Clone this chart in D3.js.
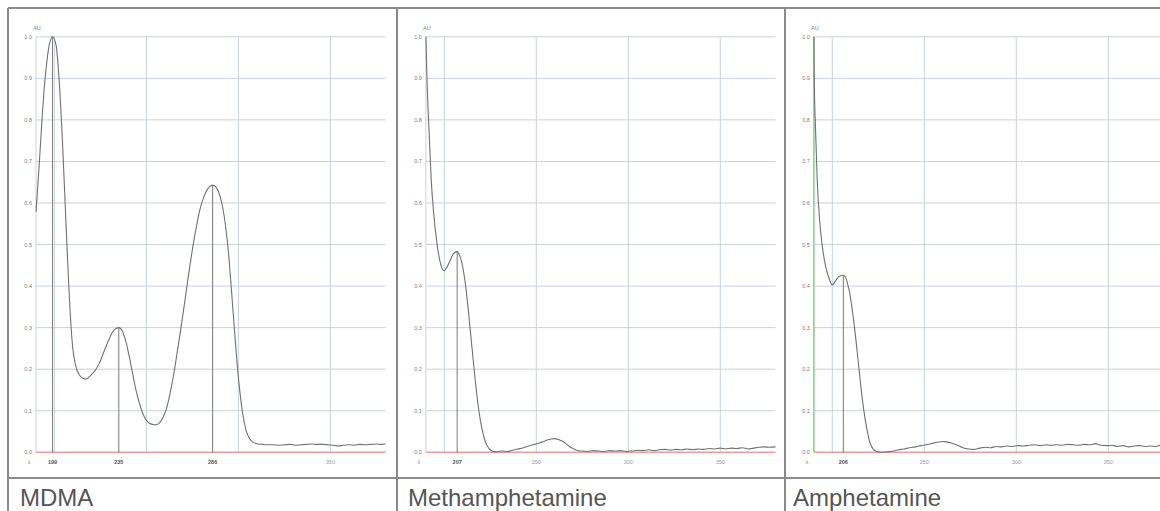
<!DOCTYPE html>
<html lang="en">
<head>
    <meta charset="UTF-8">
    <title>UV Spectra</title>
    <script src="https://cdnjs.cloudflare.com/ajax/libs/d3/7.8.5/d3.min.js"></script>
    <style>
        body {
            margin: 0;
            padding: 0;
            background: #fff;
            font-family: "Liberation Sans", Arial, sans-serif;
        }
    </style>
</head>
<body>
    <div id="chart"></div>

    <script>
        // spectra: [wavelength nm, absorbance AU]
        const mdma = [
            [190, .579], [191.8, .696], [193.6, .824], [195.4, .920], [197.2, .980], [199, 1.0],
            [200.9, .980], [202.7, .888], [204.5, .736], [206.3, .551], [208.1, .375], [209.9, .254],
            [211.7, .206], [213.6, .186], [215.4, .178], [217.2, .176], [219, .182], [220.8, .190],
            [222.6, .200], [224.4, .214], [226.2, .234], [228, .254], [229.9, .274], [231.7, .290],
            [233.5, .298], [235, .300], [237.1, .290], [238.9, .266], [240.7, .230], [242.5, .190],
            [244.3, .150], [246.2, .118], [248, .094], [249.8, .078], [251.6, .070], [253.4, .067],
            [255.2, .066], [257, .070], [258.8, .082], [260.7, .102], [262.5, .134], [264.3, .174],
            [266.1, .222], [267.9, .274], [269.7, .327], [271.5, .383], [273.3, .439], [275.1, .491],
            [277, .539], [278.8, .579], [280.6, .607], [282.4, .627], [284.2, .639], [286, .643],
            [287.8, .638], [289.6, .622], [291.4, .591], [293.3, .535], [295.1, .455], [296.9, .351],
            [298.7, .246], [300.5, .158], [302.3, .094], [304.1, .054], [305.9, .034], [307.8, .025],
            [309.6, .021], [313, .019], [316, .018], [319, .018], [322, .017], [325, .018], [328, .019],
            [331, .017], [334, .018], [337, .019], [340, .020], [343, .019], [346, .019], [349, .018],
            [352, .017], [354, .015], [357, .017], [360, .018], [363, .017], [366, .019], [369, .018],
            [372, .019], [375, .020], [378, .019], [380, .020]
        ];

        const meth = [
            [190, 1.0], [190.6, .896], [191.7, .776], [192.9, .655], [194.4, .567], [196, .503],
            [197.5, .463], [198.7, .443], [200, .437], [201.4, .445], [203.3, .463], [205.1, .479],
            [207, .483], [208.3, .474], [209.6, .455], [211.4, .407], [213.2, .335], [215, .254],
            [216.8, .174], [218.6, .106], [220.4, .058], [222.2, .026], [224.1, .010], [225.9, .003],
            [228, .001], [231, .003], [234, .002], [237, .005], [240, .008], [243, .011], [246, .016],
            [249, .019], [252, .023], [255, .028], [258, .032], [260, .033], [262, .031], [264, .027],
            [266, .021], [268, .014], [270, .009], [272, .005], [275, .003], [278, .002], [281, .004],
            [284, .003], [287, .002], [290, .004], [293, .003], [296, .004], [299, .002], [302, .003],
            [305, .005], [308, .004], [311, .006], [314, .004], [317, .006], [320, .007], [323, .005],
            [326, .007], [329, .006], [332, .008], [335, .006], [338, .008], [341, .007], [344, .009],
            [347, .008], [350, .010], [353, .008], [356, .010], [359, .009], [362, .011], [365, .008],
            [368, .010], [371, .012], [374, .013], [377, .012], [380, .013]
        ];

        const amph = [
            [190, 1.0], [190.2, .896], [190.9, .776], [191.8, .655], [193.1, .559], [194.6, .495],
            [196.4, .447], [198.2, .419], [200, .403], [201.8, .413], [203.6, .423], [206, .426],
            [207.5, .418], [208.6, .400], [209.6, .380], [211.4, .324], [213.2, .256], [215, .180],
            [216.8, .111], [218.7, .058], [220.5, .023], [222.3, .007], [224.1, .002], [227, .000],
            [230, .001], [233, .003], [236, .006], [239, .008], [242, .011], [245, .013], [248, .016],
            [251, .018], [254, .021], [257, .024], [260, .026], [262, .025], [265, .022], [268, .017],
            [271, .011], [274, .008], [277, .007], [280, .010], [283, .012], [286, .011], [289, .014],
            [292, .013], [295, .015], [298, .014], [301, .016], [304, .015], [307, .017], [310, .018],
            [313, .016], [316, .018], [319, .017], [322, .018], [325, .017], [328, .019], [331, .018],
            [334, .017], [337, .019], [340, .018], [343, .021], [346, .017], [349, .016], [352, .017],
            [355, .014], [358, .016], [361, .013], [364, .015], [367, .016], [370, .014], [373, .015],
            [376, .014], [378, .017], [380, .019]
        ];

        const names = ['MDMA', 'Methamphetamine', 'Amphetamine'];
        const peaks = [[199, 235, 286], [207], [206]];
        const gridLabels = [[350], [250, 300, 350], [250, 300, 350]];
        const gridWl = [200, 250, 300, 350];
        const yTicks = [0, 0.1, 0.2, 0.3, 0.4, 0.5, 0.6, 0.7, 0.8, 0.9, 1.0];
        const series = [mdma, meth, amph];

        const width = 1160, height = 511;
        const panelLeft = [36, 425.9, 813.9];   // x of 190 nm in each panel
        const textLeft = [20, 408, 793];
        const seps = [8, 397, 785];

        const svg = d3.select('#chart').append('svg')
            .attr('width', width)
            .attr('height', height);

        const y = d3.scaleLinear().domain([0, 1]).range([452.3, 36.8]);

        series.forEach((data, i) => {
            const x = d3.scaleLinear()
                .domain([190, 380])
                .range([panelLeft[i], panelLeft[i] + 349.6]);
            const g = svg.append('g');

            // grid
            g.selectAll('.hg').data(yTicks.slice(1)).join('line')
                .attr('x1', x(190)).attr('x2', Math.min(x(380), width))
                .attr('y1', d => y(d)).attr('y2', d => y(d))
                .attr('stroke', '#c9d1dd').attr('stroke-width', 1);
            g.selectAll('.vg').data([190].concat(gridWl)).join('line')
                .attr('x1', d => x(d)).attr('x2', d => x(d))
                .attr('y1', y(0)).attr('y2', y(1))
                .attr('stroke', '#c9d1dd').attr('stroke-width', 1);

            // y tick labels
            g.selectAll('.yl').data(yTicks).join('text')
                .attr('x', x(190) - 4).attr('y', d => y(d) + 2)
                .attr('text-anchor', 'end')
                .attr('font-size', 5.5).attr('fill', '#7d7d7d')
                .text(d => d.toFixed(1));
            g.append('text')
                .attr('x', x(190) + 1).attr('y', 30)
                .attr('text-anchor', 'middle')
                .attr('font-size', 5.5).attr('fill', '#7d7d7d')
                .text('AU');

            // green edge line (third panel only)
            if (i === 2) {
                g.append('line')
                    .attr('x1', x(190)).attr('x2', x(190))
                    .attr('y1', y(0)).attr('y2', y(1))
                    .attr('stroke', '#86d886').attr('stroke-width', 1.5);
            }

            // baseline
            g.append('line')
                .attr('x1', x(190)).attr('x2', Math.min(x(380), width))
                .attr('y1', y(0)).attr('y2', y(0))
                .attr('stroke', '#f19a9a').attr('stroke-width', 1.5);

            // peak marker lines
            const valueAt = wl => data.find(d => d[0] === wl)[1];
            g.selectAll('.pk').data(peaks[i]).join('line')
                .attr('x1', d => x(d)).attr('x2', d => x(d))
                .attr('y1', y(0)).attr('y2', d => y(valueAt(d)))
                .attr('stroke', '#777').attr('stroke-width', 1);

            // spectrum
            const line = d3.line()
                .x(d => x(d[0]))
                .y(d => y(d[1]))
                .curve(d3.curveMonotoneX);
            g.append('path')
                .datum(data)
                .attr('d', line)
                .attr('fill', 'none')
                .attr('stroke', '#707070')
                .attr('stroke-width', 1.1);

            // x labels
            g.append('text')
                .attr('x', x(190) - 7).attr('y', 464)
                .attr('text-anchor', 'middle')
                .attr('font-size', 5.5).attr('fill', '#7d7d7d')
                .text('λ');
            g.selectAll('.pl').data(peaks[i]).join('text')
                .attr('x', d => x(d)).attr('y', 464)
                .attr('text-anchor', 'middle')
                .attr('font-size', 5.5).attr('font-weight', 'bold').attr('fill', '#555')
                .text(d => d);
            g.selectAll('.gl').data(gridLabels[i]).join('text')
                .attr('x', d => x(d)).attr('y', 464)
                .attr('text-anchor', 'middle')
                .attr('font-size', 5.5).attr('fill', '#999')
                .text(d => d);

            // compound name
            svg.append('text')
                .attr('x', textLeft[i]).attr('y', 506)
                .attr('font-size', 24).attr('fill', '#555')
                .text(names[i]);
        });

        // table frame
        const frame = svg.append('g').attr('stroke', '#8a8a8a').attr('stroke-width', 2);
        frame.append('line').attr('x1', 8).attr('x2', width).attr('y1', 8).attr('y2', 8);
        frame.append('line').attr('x1', 8).attr('x2', width).attr('y1', 478).attr('y2', 478);
        frame.selectAll('.sep').data(seps).join('line')
            .attr('x1', d => d).attr('x2', d => d)
            .attr('y1', 8).attr('y2', height);
    </script>
</body>
</html>
